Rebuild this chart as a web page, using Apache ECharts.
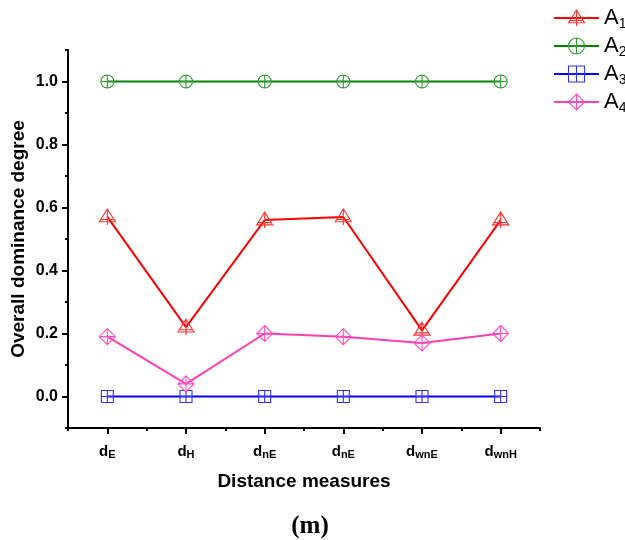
<!DOCTYPE html>
<html>
<head>
<meta charset="utf-8">
<script src="https://cdn.jsdelivr.net/npm/echarts@6/dist/echarts.min.js"></script>
<style>html,body{margin:0;padding:0;background:#fff;}#c{width:625px;height:540px;}</style>
</head>
<body>
<div id="c"></div>
<script>
// ---- data ----
var categories = ['E', 'H', 'nE', 'nE', 'wnE', 'wnH'];
var seriesNames = ['A1', 'A2', 'A3', 'A4'];
var valuesA1 = [0.57, 0.22, 0.56, 0.57, 0.21, 0.56];
var valuesA2 = [1.0, 1.0, 1.0, 1.0, 1.0, 1.0];
var valuesA3 = [0.0, 0.0, 0.0, 0.0, 0.0, 0.0];
var valuesA4 = [0.19, 0.04, 0.20, 0.19, 0.17, 0.20];
var yMajorTicks = [0.0, 0.2, 0.4, 0.6, 0.8, 1.0];
var yMinorTicks = [-0.1, 0.1, 0.3, 0.5, 0.7, 0.9, 1.1];

// ---- styles ----
var colors = ['#ff0000', '#008000', '#0000ff', '#ff3fb0'];
var markColors = ['#ff3030', '#2e9a2e', '#3030ff', '#ff4fbf'];
var symbols = [
  'path://M50,0 L100,80 L0,80 Z M50,0 L50,100 M10,66 L90,66',
  'path://M50,0 A50,50 0 1,1 49.99,0 Z M50,0 L50,100 M0,50 L100,50',
  'path://M0,0 L100,0 L100,100 L0,100 Z M50,0 L50,100 M0,50 L100,50',
  'path://M50,0 L100,50 L50,100 L0,50 Z M50,0 L50,100 M0,50 L100,50'
];
var symbolSizes = [[16, 16], 13, 12, 16];
var dataSets = [valuesA1, valuesA2, valuesA3, valuesA4];

var series = seriesNames.map(function (n, i) {
  return {
    name: n,
    type: 'line',
    data: dataSets[i],
    symbol: symbols[i],
    symbolSize: symbolSizes[i],
    showSymbol: true,
    lineStyle: { color: colors[i], width: 2 },
    itemStyle: { color: 'rgba(255,255,255,0)', borderColor: markColors[i], borderWidth: 1.1 },
    emphasis: { disabled: true },
    z: 2 + i
  };
});

var chart = echarts.init(document.getElementById('c'), null, { renderer: 'canvas' });
chart.setOption({
  animation: false,
  backgroundColor: '#ffffff',
  title: {
    text: '(m)',
    left: 305,
    textAlign: 'center',
    top: 509,
    textStyle: { fontFamily: 'Liberation Serif', fontWeight: 'bold', fontSize: 25, color: '#000' }
  },
  legend: {
    orient: 'vertical',
    left: 553,
    top: 5,
    padding: 0,
    itemWidth: 45,
    itemHeight: 20,
    itemGap: 2,
    data: seriesNames,
    itemStyle: { color: 'rgba(255,255,255,0)', borderWidth: 1.1 },
    formatter: function (name) {
      return '{a|' + name.charAt(0) + '}{s|' + name.slice(1) + '}';
    },
    textStyle: {
      padding: 0,
      rich: {
        a: { fontFamily: 'Liberation Sans', fontSize: 22, color: '#000', lineHeight: 24 },
        s: { fontFamily: 'Liberation Sans', fontSize: 14, color: '#000', lineHeight: 14, padding: [12, 0, 0, 0] }
      }
    }
  },
  grid: { left: 68, right: 85, top: 50, bottom: 112, containLabel: false, outerBoundsMode: 'none' },
  xAxis: [{
    type: 'category',
    data: categories,
    boundaryGap: true,
    name: 'Distance measures',
    nameLocation: 'middle',
    nameGap: 44,
    nameMoveOverlap: false,
    nameTextStyle: { fontFamily: 'Liberation Sans', fontWeight: 'bold', fontSize: 19, color: '#000' },
    axisLine: { show: true, onZero: false, lineStyle: { color: '#000', width: 2 } },
    axisTick: { show: true, alignWithLabel: true, interval: 0, length: 6, lineStyle: { color: '#000', width: 2 } },
    axisLabel: {
      margin: 15,
      interval: 0,
      formatter: function (v) { return '{d|d}{s|' + v + '}'; },
      rich: {
        d: { fontFamily: 'Liberation Sans', fontWeight: 'bold', fontSize: 15, color: '#000', lineHeight: 18 },
        s: { fontFamily: 'Liberation Sans', fontWeight: 'bold', fontSize: 11, color: '#000', lineHeight: 18, padding: [6, 0, 0, 0] }
      }
    },
    splitLine: { show: false }
  }, {
    type: 'category',
    data: categories,
    boundaryGap: true,
    position: 'bottom',
    axisLine: { show: false, onZero: false },
    axisTick: { show: true, alignWithLabel: false, interval: 0, length: 3, lineStyle: { color: '#000', width: 2 } },
    axisLabel: { show: false },
    splitLine: { show: false }
  }],
  yAxis: [{
    type: 'value',
    min: -0.1,
    max: 1.1,
    interval: 0.1,
    name: 'Overall dominance degree',
    nameLocation: 'middle',
    nameGap: 40,
    nameMoveOverlap: false,
    nameTextStyle: { fontFamily: 'Liberation Sans', fontWeight: 'bold', fontSize: 19, color: '#000' },
    axisLine: { show: true, onZero: false, lineStyle: { color: '#000', width: 2 } },
    axisTick: { show: true, length: 6, customValues: yMajorTicks, lineStyle: { color: '#000', width: 2 } },
    axisLabel: {
      customValues: yMajorTicks,
      margin: 10,
      fontFamily: 'Liberation Sans', fontWeight: 'bold', fontSize: 16, color: '#000',
      formatter: function (v) { return v.toFixed(1); }
    },
    splitLine: { show: false }
  }, {
    type: 'value',
    min: -0.1,
    max: 1.1,
    interval: 0.1,
    position: 'left',
    axisLine: { show: false, onZero: false },
    axisTick: { show: true, length: 3, customValues: yMinorTicks, lineStyle: { color: '#000', width: 2 } },
    axisLabel: { show: false },
    splitLine: { show: false }
  }],
  series: series
});
</script>
</body>
</html>
